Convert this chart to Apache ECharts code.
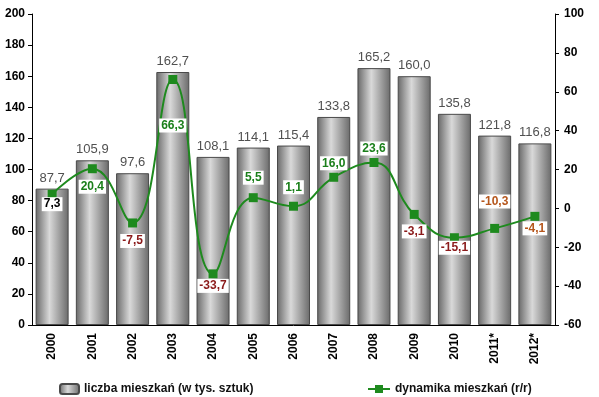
<!DOCTYPE html>
<html>
<head>
<meta charset="utf-8">
<script src="https://cdn.jsdelivr.net/npm/echarts@6/dist/echarts.min.js"></script>
<style>
  html, body { margin: 0; padding: 0; background: #fff; }
  #chart { width: 599px; height: 397px; }
</style>
</head>
<body>
<div id="chart"></div>
<script>
var years = ['2000', '2001', '2002', '2003', '2004', '2005', '2006', '2007', '2008', '2009', '2010', '2011*', '2012*'];
var liczba = [87.7, 105.9, 97.6, 162.7, 108.1, 114.1, 115.4, 133.8, 165.2, 160.0, 135.8, 121.8, 116.8];
var dynamika = [7.3, 20.4, -7.5, 66.3, -33.7, 5.5, 1.1, 16.0, 23.6, -3.1, -15.1, -10.3, -4.1];

// label placement (vertical shift from the marker) and colour per point
var labelDy = [10, 18, 18, 46, 12, -20, -19, -14, -14, 17, 10, -27, 12];
var labelColors = ['#000', '#1a7f1a', '#8b1a1a', '#1a7f1a', '#8b1a1a', '#1a7f1a', '#1a7f1a',
  '#1a7f1a', '#1a7f1a', '#8b1a1a', '#8b1a1a', '#b5561c', '#b5561c'];

var fmt = function (v) { return v.toFixed(1).replace('.', ','); };
var green = '#1e8a1e';
var barGrad = new echarts.graphic.LinearGradient(0, 0, 1, 0, [
  { offset: 0, color: '#686868' },
  { offset: 0.42, color: '#d9d9d9' },
  { offset: 1, color: '#6a6a6a' }
]);

var lineData = dynamika.map(function (v, i) {
  return {
    value: v,
    label: { offset: [0, labelDy[i]], color: labelColors[i] }
  };
});

var chart = echarts.init(document.getElementById('chart'));
chart.setOption({
  animation: false,
  textStyle: { fontFamily: 'Liberation Sans, Arial, sans-serif' },
  grid: { left: 32, right: 44, top: 14, bottom: 72 },
  legend: [{
    left: 54, top: 378, itemWidth: 19, itemHeight: 10, itemGap: 5,
    textStyle: { fontSize: 12, fontWeight: 'bold', color: '#111' },
    data: ['liczba mieszkań (w tys. sztuk)']
  }, {
    left: 362, top: 378, itemWidth: 22, itemHeight: 10,
    textStyle: { fontSize: 12, fontWeight: 'bold', color: '#111' },
    data: ['dynamika mieszkań (r/r)']
  }],
  xAxis: {
    type: 'category',
    data: years,
    axisLine: { lineStyle: { color: '#000' } },
    axisTick: { alignWithLabel: false, length: 4, lineStyle: { color: '#000' } },
    axisLabel: { rotate: 90, fontSize: 12, fontWeight: 'bold', color: '#000', margin: 8 }
  },
  yAxis: [{
    type: 'value', min: 0, max: 200, interval: 20,
    axisLine: { show: true, lineStyle: { color: '#000' } },
    axisTick: { show: true, length: 4, lineStyle: { color: '#000' } },
    splitLine: { show: false },
    axisLabel: { fontSize: 12, fontWeight: 'bold', color: '#000', margin: 7 }
  }, {
    type: 'value', min: -60, max: 100, interval: 20,
    axisLine: { show: true, lineStyle: { color: '#000' } },
    axisTick: { show: true, length: 4, lineStyle: { color: '#000' } },
    splitLine: { show: false },
    axisLabel: { fontSize: 12, fontWeight: 'bold', color: '#000', margin: 9 }
  }],
  series: [{
    name: 'liczba mieszkań (w tys. sztuk)',
    type: 'bar',
    data: liczba,
    barWidth: 33,
    itemStyle: { color: barGrad, borderColor: '#4a4a4a', borderWidth: 1 },
    label: {
      show: true, position: 'top', distance: 4,
      fontSize: 13, color: '#505050',
      formatter: function (p) { return fmt(p.value); }
    }
  }, {
    name: 'dynamika mieszkań (r/r)',
    type: 'line',
    yAxisIndex: 1,
    data: lineData,
    smooth: 0.45,
    symbol: 'rect',
    symbolSize: 9,
    lineStyle: { color: green, width: 2 },
    itemStyle: { color: green },
    label: {
      show: true, position: 'inside',
      fontSize: 12, fontWeight: 'bold',
      backgroundColor: '#fff', padding: [1, 2],
      formatter: function (p) { return fmt(p.value); }
    },
    z: 5
  }]
});
</script>
</body>
</html>
